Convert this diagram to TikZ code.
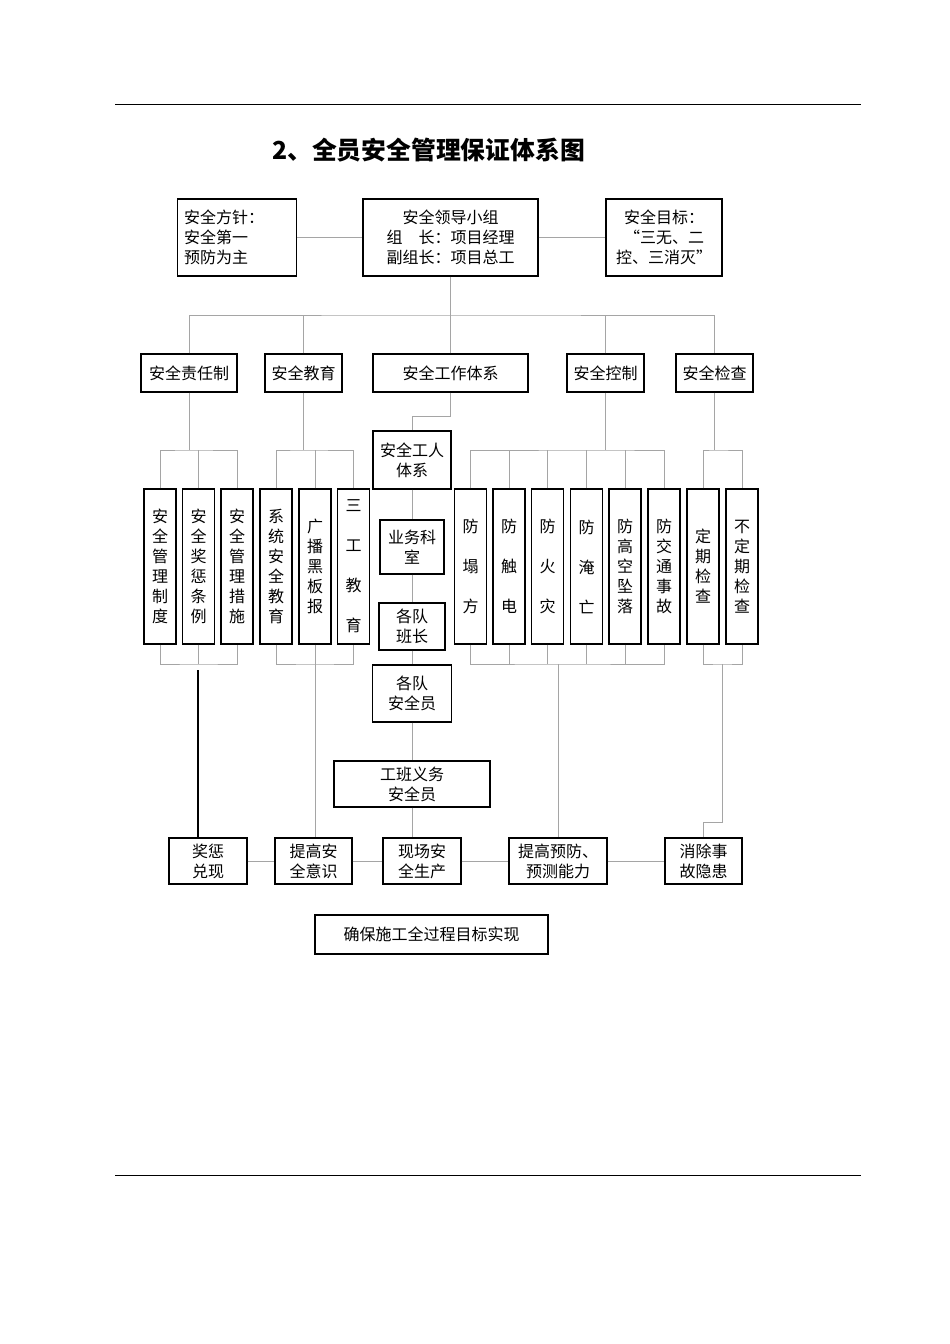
\documentclass[tikz,border=0pt]{standalone}
\usepackage{fontspec}
\setmainfont{Noto Sans CJK SC}
\definecolor{linegray}{RGB}{165,165,165}
\tikzset{
	box/.style={draw=black, line width=0.8pt, inner sep=2pt, align=center, font=\fontsize{10}{12.5}\selectfont},
	sz/.style 2 args={minimum width=#1*0.625pt, minimum height=#2*0.625pt},
	vbox/.style={box, text width=10pt, inner xsep=0pt, sz={32}{155}},
	vwide/.style={vbox, font=\fontsize{10}{25}\selectfont},
	link/.style={draw=linegray, line width=0.6pt},
}
\begin{document}
\begin{tikzpicture}[x=0.625pt,y=-0.625pt]
	\useasboundingbox (0,0) rectangle (950,1344);
	\draw[line width=0.6pt] (115,104) -- (861,104);
	\draw[line width=0.6pt] (115,1175) -- (861,1175);
	\node (title) at (428.5,150)	[font=\fontsize{15.5}{18}\selectfont\bfseries]	{2、全员安全管理保证体系图};

	\node (zhen) at (237,237.5)	[box, sz={118}{77}, align=left, text width=66pt, inner xsep=4pt]	{安全方针：\\安全第一\\预防为主};
	\node (ldxz) at (450.5,237.5)	[box, sz={175}{77}]	{安全领导小组\\组\hspace{1em}长：项目经理\\副组长：项目总工};
	\node (mubiao) at (664,237.5)	[box, sz={116}{77}]	{安全目标：\\“三无、二\\控、三消灭”};

	\node (zrz) at (189,373)	[box, sz={96}{38}]	{安全责任制};
	\node (jy) at (303.5,373)	[box, sz={77}{38}]	{安全教育};
	\node (gztx) at (450.5,373)	[box, sz={155}{38}]	{安全工作体系};
	\node (kz) at (605.5,373)	[box, sz={77}{38}]	{安全控制};
	\node (jc) at (714.5,373)	[box, sz={77}{38}]	{安全检查};

	\node (zd) at (160,566.5)	[vbox]	{安\\全\\管\\理\\制\\度};
	\node (tl) at (198.5,566.5)	[vbox]	{安\\全\\奖\\惩\\条\\例};
	\node (cs) at (237,566.5)	[vbox]	{安\\全\\管\\理\\措\\施};
	\node (xtjy) at (276,566.5)	[vbox]	{系\\统\\安\\全\\教\\育};
	\node (hb) at (315,566.5)	[vbox]	{广\\播\\黑\\板\\报};
	\node (sjjy) at (353.5,566.5)	[vwide]	{三\\工\\教\\育};
	\node (ft) at (470.5,566.5)	[vwide]	{防\\塌\\方};
	\node (fc) at (509,566.5)	[vwide]	{防\\触\\电};
	\node (fh) at (547.5,566.5)	[vwide]	{防\\火\\灾};
	\node (fy) at (586.5,566.5)	[vwide]	{防\\淹\\亡};
	\node (fz) at (625,566.5)	[vbox]	{防\\高\\空\\坠\\落};
	\node (fj) at (664,566.5)	[vbox]	{防\\交\\通\\事\\故};
	\node (dq) at (703,566.5)	[vbox]	{定\\期\\检\\查};
	\node (bdq) at (742,566.5)	[vbox]	{不\\定\\期\\检\\查};

	\node (grtx) at (412,460)	[box, sz={78}{58}]	{安全工人\\体系};
	\node (ywks) at (412,547)	[box, sz={64}{54}]	{业务科\\室};
	\node (bz) at (412,626.5)	[box, sz={66}{47}]	{各队\\班长};
	\node (aqy) at (412,693.5)	[box, sz={79}{57}]	{各队\\安全员};
	\node (ybaqy) at (412,784)	[box, sz={156}{46}]	{工班义务\\安全员};

	\node (jcdx) at (208,861)	[box, sz={78}{46}]	{奖惩\\兑现};
	\node (tgyys) at (313.5,861)	[box, sz={77}{46}]	{提高安\\全意识};
	\node (xcsc) at (422,861)	[box, sz={78}{46}]	{现场安\\全生产};
	\node (tgyf) at (558,861)	[box, sz={98}{46}]	{提高预防、\\预测能力};
	\node (xcyh) at (703.5,861)	[box, sz={77}{46}]	{消除事\\故隐患};
	\node (qbss) at (431.5,934.5)	[box, sz={233}{39}]	{确保施工全过程目标实现};

	\draw[link] (zhen) -- (ldxz);
	\draw[link] (ldxz) -- (mubiao);
	\coordinate (top) at (450.5,315);
	\draw[link] (ldxz) -- (top);
	\draw[link] (zrz) |- (top) -| (jc);
	\draw[link] (jy) -- (jy |- top);
	\draw[link] (gztx) -- (top);
	\draw[link] (kz) -- (kz |- top);

	\coordinate (zrzb) at (189,450);
	\draw[link] (zrz) -- (zrzb);
	\draw[link] (zd) |- (zrzb) -| (cs);
	\draw[link] (tl) -- (tl |- zrzb);
	\coordinate (jyb) at (303.5,450);
	\draw[link] (jy) -- (jyb);
	\draw[link] (xtjy) |- (jyb) -| (sjjy);
	\draw[link] (hb) -- (hb |- jyb);
	\draw[link] (gztx) -- ++(0,43) -| (grtx);
	\coordinate (kzb) at (605.5,450);
	\draw[link] (kz) -- (kzb);
	\draw[link] (ft) |- (kzb) -| (fj);
	\draw[link] (fc) -- (fc |- kzb);
	\draw[link] (fh) -- (fh |- kzb);
	\draw[link] (fy) -- (fy |- kzb);
	\draw[link] (fz) -- (fz |- kzb);
	\coordinate (jcb) at (714.5,450);
	\draw[link] (jc) -- (jcb);
	\draw[link] (dq) |- (jcb) -| (bdq);

	\coordinate (zrzt) at (198.5,664);
	\draw[link] (zd) |- (zrzt) -| (cs);
	\draw[link] (tl) -- (zrzt);
	\coordinate (jxs) at (198,670);
	\draw[line width=1.1pt] (jxs) -- (jxs |- jcdx.north);
	\coordinate (jyt) at (315,664);
	\draw[link] (xtjy) |- (jyt) -| (sjjy);
	\draw[link] (hb) -- (hb |- tgyys.north);
	\coordinate (kzt) at (558,664);
	\draw[link] (ft) |- (kzt) -| (fj);
	\draw[link] (fc) -- (fc |- kzt);
	\draw[link] (fh) -- (fh |- kzt);
	\draw[link] (fy) -- (fy |- kzt);
	\draw[link] (fz) -- (fz |- kzt);
	\draw[link] (kzt) -- (tgyf);
	\coordinate (jct) at (722,664);
	\draw[link] (dq) |- (jct) -| (bdq);
	\draw[link] (jct) -- ++(0,158) -| (xcyh);

	\draw[link] (grtx) -- (ywks);
	\draw[link] (ywks) -- (bz);
	\draw[link] (bz) -- (aqy);
	\draw[link] (aqy) -- (ybaqy);
	\draw[link] (ybaqy) -- (ybaqy |- xcsc.north);

	\draw[link] (jcdx) -- (tgyys);
	\draw[link] (tgyys) -- (xcsc);
	\draw[link] (xcsc) -- (tgyf);
	\draw[link] (tgyf) -- (xcyh);
\end{tikzpicture}
\end{document}
